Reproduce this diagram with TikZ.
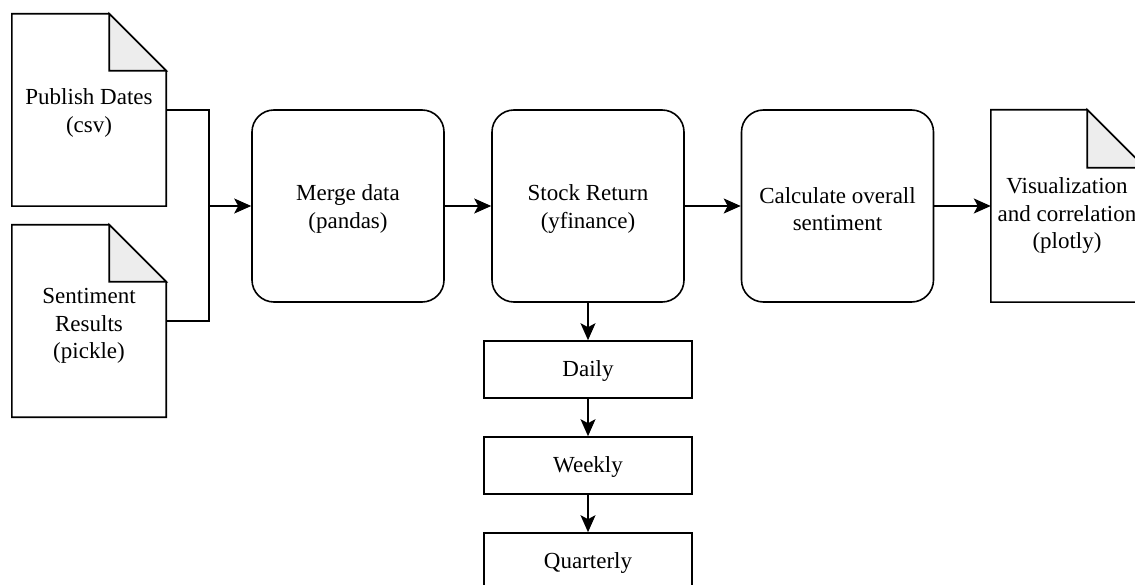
\documentclass[tikz,border=0pt]{standalone}
\usepackage{fontspec}
\setmainfont{Liberation Serif}
\usetikzlibrary{arrows.meta,calc}

% outline of a note with a folded top-right corner, drawn round a named node
\newcommand\notefold[2]{%
  \draw[link, line join=miter] (#1.north west) -- ($(#1.north east)+(-#2,0)$)
    -- ($(#1.north east)+(0,#2)$) -- (#1.south east) -- (#1.south west) -- cycle;
  \draw[link, line join=miter, fill=black!7] ($(#1.north east)+(-#2,0)$)
    -- ($(#1.north east)+(-#2,#2)$) -- ($(#1.north east)+(0,#2)$) -- cycle;
}

\begin{document}
\begin{tikzpicture}[x=1pt, y=-1pt,
  every node/.style={font=\fontsize{23}{27.5}\selectfont, align=center, inner sep=0pt},
  link/.style={line width=1.6pt},
  proc/.style={draw, line width=1.6pt, rounded corners=22pt,
               minimum width=192pt, minimum height=192pt},
  period/.style={draw, line width=1.6pt, minimum width=208pt, minimum height=57pt},
  doc/.style={minimum width=154pt, minimum height=192pt},
  flow/.style={line width=1.6pt, -{Stealth[length=17pt, width=15pt, inset=4pt]}}
]
\clip (0,0) rectangle (1135,585);
\fill[white] (0,0) rectangle (1135,585);

% input files
\node[doc] (dates) at (89,110) {};
\node[doc] (sent)  at (89,321) {};
\notefold{dates}{57}
\notefold{sent}{57}
\node (datestxt) at (89,113) {Publish Dates\\(csv)};
\node (senttxt)  at (89,326) {Sentiment\\Results\\(pickle)};

% processing steps
\node[proc] (merge) at (348,206) {};
\node[proc] (stock) at (588,206) {};
\node[proc] (calc)  at (837.5,206) {};
\node (mergetxt) at (348,209) {Merge data\\(pandas)};
\node (stocktxt) at (588,209) {Stock Return\\(yfinance)};
\node (calctxt)  at (837.5,209) {Calculate overall\\sentiment};

% output
\node[doc] (viz) at (1068,206) {};
\notefold{viz}{58}
\node (viztxt) at (1067,216) {Visualization\\and correlation\\(plotly)};

% return periods
\node[period] (daily)  at (588,369.5) {};
\node[period] (weekly) at (588,465.5) {};
\node[period] (quart)  at (588,561.5) {};
\node (dailytxt)  at (588,371) {Daily};
\node (weeklytxt) at (588,467) {Weekly};
\node (quarttxt)  at (588,563) {Quarterly};

% connectors
\coordinate (join) at (209,206);
\draw[link] (dates.east) -| (join);
\draw[link] (sent.east) -| (join);
\draw[flow] (join) -- (merge.west);
\draw[flow] (merge) -- (stock);
\draw[flow] (stock) -- (calc);
\draw[flow] (calc) -- (viz.west);
\draw[flow] (stock) -- (daily);
\draw[flow] (daily) -- (weekly);
\draw[flow] (weekly) -- (quart);
\end{tikzpicture}
\end{document}
